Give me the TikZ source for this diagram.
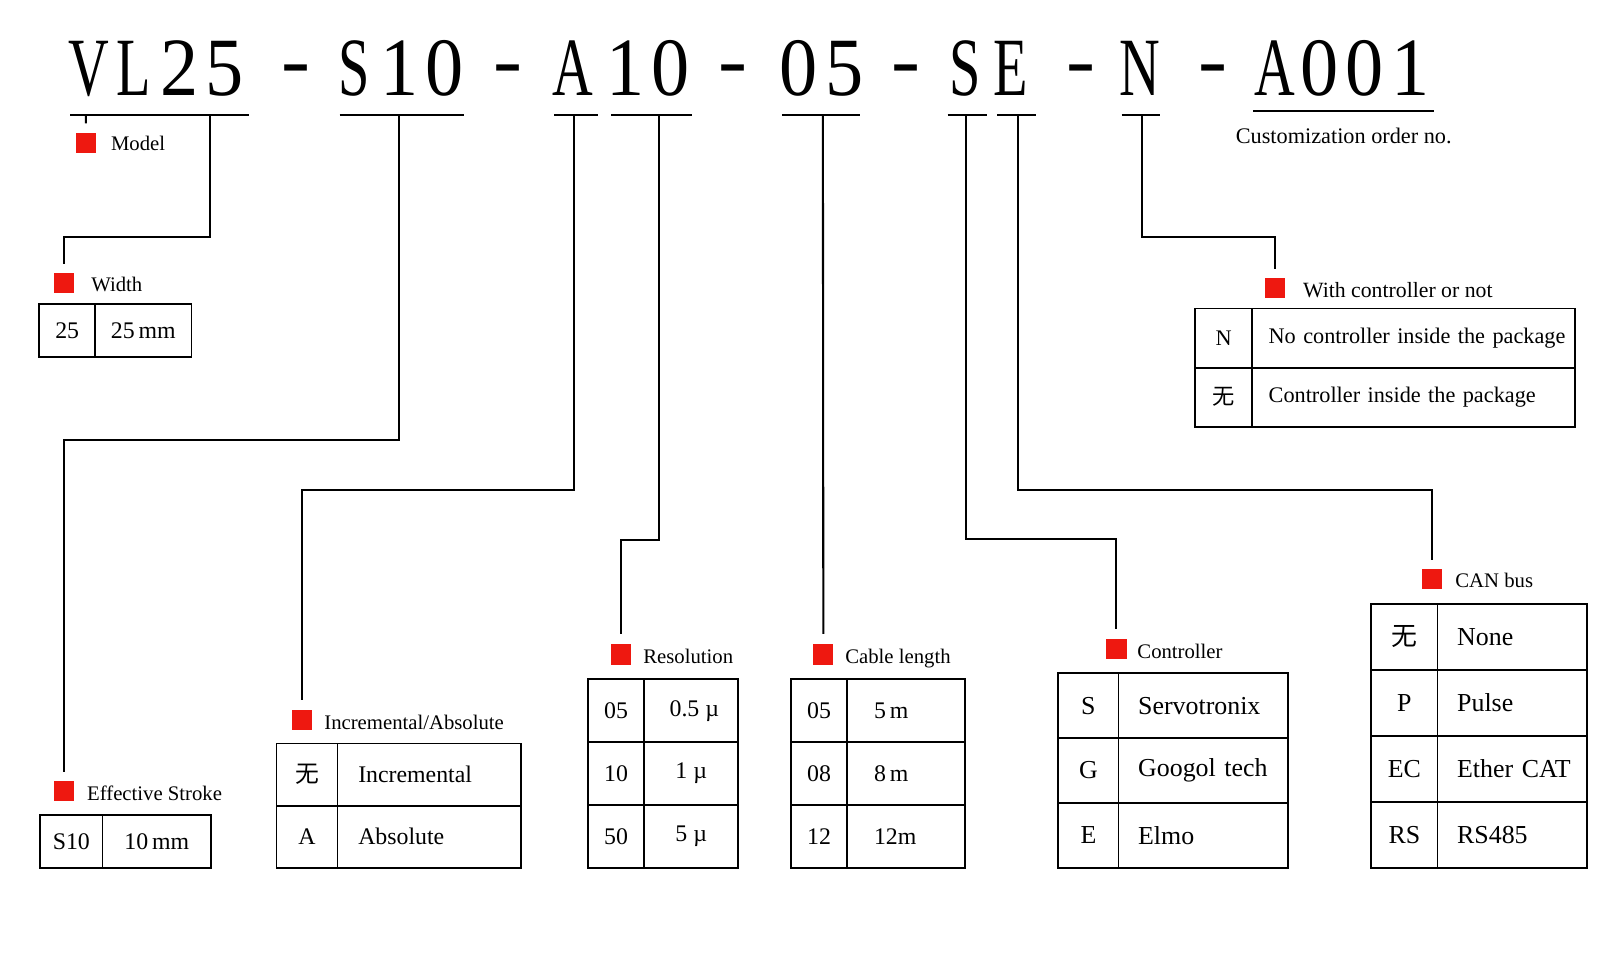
\documentclass[tikz,border=0pt]{standalone}
\usepackage{fontspec}
\usepackage{graphicx}
\setmainfont{Liberation Serif}
\newfontfamily\cjk{Noto Sans CJK SC}
\definecolor{sqred}{RGB}{238,24,16}
\newcommand\hg[2][0.92]{\makebox[43.5pt]{\scalebox{#1}[1]{#2}}}
\newcommand\hl[1]{\hg[0.68]{#1}}
\newcommand\tabA{\fontsize{23}{27}\selectfont}
\newcommand\tabB{\fontsize{25}{29}\selectfont}
\newcommand\tabC{\fontsize{21.5}{25}\selectfont}
\newcommand\wu{{\cjk 无}}
\begin{document}
\begin{tikzpicture}[x=1pt,y=-1pt,
  code/.style={font=\fontsize{80}{80}\selectfont, inner sep=0pt, anchor=base west},
  dashmark/.style={font=\fontsize{80}{80}\selectfont, inner sep=0pt, anchor=base},
  uline/.style={line width=2.2pt},
  conn/.style={line width=2pt},
  sq/.style={fill=sqred, minimum size=19.5pt, inner sep=0pt, anchor=north west},
  lab/.style={font=\fontsize{20}{24}\selectfont, inner sep=0pt, anchor=base west},
  cell/.style={draw, line width=1.8pt, inner sep=0pt, anchor=north west, align=center},
  lcell/.style={draw, line width=1.8pt, inner sep=0pt, anchor=north west, align=left}
]
\useasboundingbox[fill=white] (0,0) rectangle (1568,935);

% ---------- header code ----------
\node[code] (gVL) at (64,92) {\hl{V}\hl{L}\hg{2}\hg{5}};
\node[dashmark] (d1) at (286,84) {\scalebox{1.05}[1]{-}};
\node[code] (gS) at (320,92) {\hl{S}\hg{1}\hg{0}};
\node[dashmark] (d2) at (490,84) {\scalebox{1.05}[1]{-}};
\node[code] (gA) at (531,92) {\hl{A}};
\node[code] (g10) at (582,92) {\hg{1}\hg{0}};
\node[dashmark] (d3) at (708,84) {\scalebox{1.05}[1]{-}};
\node[code] (g05) at (749.5,92) {\hg{0}\hg{5}};
\node[dashmark] (d4) at (875,84) {\scalebox{1.05}[1]{-}};
\node[code] (gSE) at (910,92) {\hl{S}\hl{E}};
\node[dashmark] (d5) at (1044,84) {\scalebox{1.05}[1]{-}};
\node[code] (gN) at (1079,92) {\hl{N}};
\node[dashmark] (d6) at (1171,84) {\scalebox{1.05}[1]{-}};
\node[code] (gA001) at (1209,92) {\hl{A}\hg{0}\hg{0}\hg{1}};

% ---------- underlines ----------
\draw[uline] (68,111) -- (240,111);
\draw[uline] (328,111) -- (448,111);
\draw[uline] (535,111) -- (577,111);
\draw[uline] (590,111) -- (668,111);
\draw[uline] (755,111) -- (830,111);
\draw[uline] (915,111) -- (953,111);
\draw[uline] (963,111) -- (1000,111);
\draw[uline] (1083,111) -- (1120,111);
\draw[uline] (1210,107) -- (1385,107);

\coordinate (cM) at (83,111);
\coordinate (cW) at (203,111);
\coordinate (cE) at (385,111);
\coordinate (cI) at (554,111);
\coordinate (cR) at (636,111);
\coordinate (cC) at (794.5,111);
\coordinate (cCt) at (933,111);
\coordinate (cCAN) at (983,111);
\coordinate (cN) at (1103,111);

% ---------- red squares and labels ----------
\node[sq] (sqM) at (73,128) {};
\node[lab] (lM) at (107,145) {Model};
\node[sq] (sqW) at (52,263) {};
\node[lab] (lW) at (88,281) {Width};
\node[sq] (sqE) at (52,754) {};
\node[lab] (lE) at (84,773) {Effective Stroke};
\node[sq] (sqI) at (282,685) {};
\node[lab] (lI) at (313,704) {Incremental/Absolute};
\node[sq] (sqR) at (590,622) {};
\node[lab] (lR) at (621,641) {Resolution};
\node[sq] (sqC) at (785,622) {};
\node[lab] (lC) at (816,641) {Cable length};
\node[sq] (sqCt) at (1068,617) {};
\node[lab] (lCt) at (1098,636) {Controller};
\node[sq] (sqCAN) at (1373,549) {};
\node[lab] (lCAN) at (1405,567) {CAN bus};
\node[sq] (sqN) at (1221,268) {};
\node[lab, font=\fontsize{21}{25}\selectfont] (lN) at (1258,287) {With controller or not};
\node[lab, font=\fontsize{21.5}{25}\selectfont] (lCust) at (1193,139) {Customization order no.};

% ---------- connectors ----------
\draw[conn, shorten >=9pt] (cM) -- (sqM.north);
\draw[conn] (cW) -- ++(0,118) -| ([yshift=8pt]sqW.north);
\draw[conn] (cE) -- ++(0,314) -| ([yshift=9pt]sqE.north);
\draw[conn] (cI) -- ++(0,362) -| ([yshift=9pt]sqI.north);
\draw[conn] (cR) -- ++(0,410) -| ([yshift=10pt]sqR.north);
\draw[conn, shorten >=10pt] (cC) -- (sqC.north);
\draw[conn] (cCt) -- ++(0,409) -| ([yshift=10pt]sqCt.north);
\draw[conn] (cCAN) -- ++(0,362) -| ([yshift=8pt]sqCAN.north);
\draw[conn] (cN) -- ++(0,118) -| ([yshift=8pt]sqN.north);

% ---------- Width table ----------
\node[cell, minimum width=54pt, minimum height=51pt, font=\tabA] (w11) at (37,293) {25};
\node[cell, minimum width=93pt, minimum height=51pt, font=\tabA] (w12) at (91,293) {25\,mm};

% ---------- Effective stroke table ----------
\node[cell, minimum width=60pt, minimum height=51pt, font=\tabA] (e11) at (38,786) {S10};
\node[cell, minimum width=105pt, minimum height=51pt, font=\tabA] (e12) at (98,786) {10\,mm};

% ---------- Incremental / Absolute ----------
\node[cell, minimum width=59pt, minimum height=60pt, font=\tabA] (i11) at (266,717) {\wu};
\node[lcell, text width=137pt, inner xsep=20pt, minimum height=60pt, font=\tabA] (i12) at (325,717) {\mbox{Incremental}};
\node[cell, minimum width=59pt, minimum height=60pt, font=\tabA] (i21) at (266,777) {A};
\node[lcell, text width=137pt, inner xsep=20pt, minimum height=60pt, font=\tabA] (i22) at (325,777) {\mbox{Absolute}};

% ---------- Resolution ----------
\node[cell, minimum width=54pt, minimum height=60.7pt, font=\tabA] (r11) at (567,655) {05};
\node[cell, minimum width=91pt, minimum height=60.7pt, font=\tabA] (r12) at (621,655) {\hspace{6pt}0.5 µ};
\node[cell, minimum width=54pt, minimum height=60.7pt, font=\tabA] (r21) at (567,715.7) {10};
\node[cell, minimum width=91pt, minimum height=60.7pt, font=\tabA] (r22) at (621,715.7) {1 µ};
\node[cell, minimum width=54pt, minimum height=60.7pt, font=\tabA] (r31) at (567,776.3) {50};
\node[cell, minimum width=91pt, minimum height=60.7pt, font=\tabA] (r32) at (621,776.3) {5 µ};

% ---------- Cable length ----------
\node[cell, minimum width=54pt, minimum height=60.7pt, font=\tabA] (c11) at (763,655) {05};
\node[lcell, text width=62pt, inner xsep=26pt, minimum height=60.7pt, font=\tabA] (c12) at (817,655) {\mbox{5\,m}};
\node[cell, minimum width=54pt, minimum height=60.7pt, font=\tabA] (c21) at (763,715.7) {08};
\node[lcell, text width=62pt, inner xsep=26pt, minimum height=60.7pt, font=\tabA] (c22) at (817,715.7) {\mbox{8\,m}};
\node[cell, minimum width=54pt, minimum height=60.7pt, font=\tabA] (c31) at (763,776.3) {12};
\node[lcell, text width=62pt, inner xsep=26pt, minimum height=60.7pt, font=\tabA] (c32) at (817,776.3) {\mbox{12m}};

% ---------- Controller ----------
\node[cell, minimum width=58pt, minimum height=62.7pt, font=\tabB] (t11) at (1021,649) {S};
\node[lcell, text width=126pt, inner xsep=19pt, minimum height=62.7pt, font=\tabB] (t12) at (1079,649) {\mbox{Servotronix}};
\node[cell, minimum width=58pt, minimum height=62.7pt, font=\tabB] (t21) at (1021,711.7) {G};
\node[lcell, text width=126pt, inner xsep=19pt, minimum height=62.7pt, font=\tabB] (t22) at (1079,711.7) {\mbox{Googol tech}};
\node[cell, minimum width=58pt, minimum height=62.7pt, font=\tabB] (t31) at (1021,774.3) {E};
\node[lcell, text width=126pt, inner xsep=19pt, minimum height=62.7pt, font=\tabB] (t32) at (1079,774.3) {\mbox{Elmo}};

% ---------- CAN bus ----------
\node[cell, minimum width=64pt, minimum height=63.75pt, font=\tabB] (n11) at (1323,582) {\wu};
\node[lcell, text width=106pt, inner xsep=19pt, minimum height=63.75pt, font=\tabB] (n12) at (1387,582) {\mbox{None}};
\node[cell, minimum width=64pt, minimum height=63.75pt, font=\tabB] (n21) at (1323,645.75) {P};
\node[lcell, text width=106pt, inner xsep=19pt, minimum height=63.75pt, font=\tabB] (n22) at (1387,645.75) {\mbox{Pulse}};
\node[cell, minimum width=64pt, minimum height=63.75pt, font=\tabB] (n31) at (1323,709.5) {EC};
\node[lcell, text width=106pt, inner xsep=19pt, minimum height=63.75pt, font=\tabB] (n32) at (1387,709.5) {\mbox{Ether CAT}};
\node[cell, minimum width=64pt, minimum height=63.75pt, font=\tabB] (n41) at (1323,773.25) {RS};
\node[lcell, text width=106pt, inner xsep=19pt, minimum height=63.75pt, font=\tabB] (n42) at (1387,773.25) {\mbox{RS485}};

% ---------- With controller or not ----------
\node[cell, minimum width=55pt, minimum height=57pt, font=\tabC] (k11) at (1153,297) {N};
\node[lcell, text width=280pt, inner xsep=16pt, minimum height=57pt, font=\tabC] (k12) at (1208,297) {\mbox{No controller inside the package}};
\node[cell, minimum width=55pt, minimum height=57pt, font=\tabC] (k21) at (1153,354) {\wu};
\node[lcell, text width=280pt, inner xsep=16pt, minimum height=57pt, font=\tabC] (k22) at (1208,354) {\mbox{Controller inside the package}};
\end{tikzpicture}
\end{document}
